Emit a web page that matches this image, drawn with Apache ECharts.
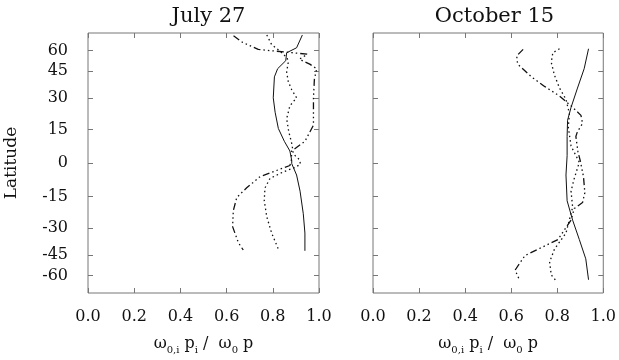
<!DOCTYPE html>
<html>
<head>
<meta charset="utf-8">
<script src="https://cdn.jsdelivr.net/npm/echarts@6/dist/echarts.min.js"></script>
<style>
  html, body { margin: 0; padding: 0; background: #fff; }
  #chart { width: 619px; height: 360px; }
</style>
</head>
<body>
<div id="chart"></div>
<script>
// panel titles
const panelTitles = ["July 27", "October 15"];
const latTicks = [-60, -45, -30, -15, 0, 15, 30, 45, 60];

// July 27 (latitude in degrees, ratio on x)
const julySolidLat = [80, 62.4, 58, 51.9, 46.5, 41.5, 30.1, 23, 15.4, 9.6, 5.3, 1.1, -0.3, -5.3, -12.5, -23, -32.6, -42.5];
const julySolidX = [0.928, 0.903, 0.86, 0.856, 0.821, 0.807, 0.802, 0.81, 0.824, 0.85, 0.874, 0.882, 0.882, 0.903, 0.918, 0.932, 0.939, 0.939];

const julyDotLat = [80, 65.6, 59.4, 54, 50.8, 44.4, 38.8, 34.3, 30.1, 26.1, 19.9, 14, 8.2, 4, 1.5, -0.5, -2, -3.9, -6.8, -11.1, -16.9, -24.5, -32.6, -41.5];
const julyDotX = [0.774, 0.795, 0.831, 0.862, 0.867, 0.86, 0.867, 0.882, 0.903, 0.874, 0.86, 0.869, 0.883, 0.889, 0.915, 0.92, 0.895, 0.846, 0.788, 0.766, 0.763, 0.774, 0.795, 0.824];

const julyDashLat = [78, 68, 60.9, 59.4, 58.1, 56.8, 53, 49.5, 46.5, 40, 30, 16.9, 9.6, 5.3, 1, -1.1, -6, -11, -15.4, -21.5, -29.3, -37.8, -42];
const julyDashX = [0.63, 0.67, 0.737, 0.81, 0.882, 0.95, 0.915, 0.96, 0.99, 0.98, 0.976, 0.976, 0.939, 0.882, 0.88, 0.874, 0.745, 0.687, 0.644, 0.629, 0.626, 0.651, 0.672];

// October 15
const octSolidLat = [61.5, 46.5, 35.2, 25.3, 19.2, 11.8, 3.2, -5.3, -16.9, -26.1, -36.1, -47.5, -63.9];
const octSolidX = [0.936, 0.917, 0.888, 0.86, 0.845, 0.843, 0.843, 0.838, 0.843, 0.867, 0.896, 0.924, 0.936];

const octDotLat = [61.5, 58, 50.8, 42.5, 35.2, 29.3, 22.2, 16.2, 7.5, 0.3, -6.8, -12.5, -19.9, -32.6, -41.5, -49.6, -59.4, -65];
const octDotX = [0.81, 0.781, 0.774, 0.788, 0.81, 0.838, 0.853, 0.848, 0.86, 0.896, 0.874, 0.86, 0.867, 0.838, 0.788, 0.767, 0.774, 0.795];

const octDashLat = [60.9, 55.5, 49.6, 41.5, 36.1, 31, 26.1, 21.5, 17.7, 14, 11.8, 5, 1, -6, -13.2, -17.7, -20.5, -26.1, -36.1, -41.5, -45.4, -55.5, -65];
const octDashX = [0.652, 0.624, 0.628, 0.688, 0.745, 0.81, 0.86, 0.903, 0.91, 0.888, 0.881, 0.89, 0.9, 0.914, 0.92, 0.91, 0.874, 0.86, 0.803, 0.717, 0.66, 0.617, 0.638];

const FONT = "DejaVu Serif";
const frameColor = "#777";

// y axis is linear in sin(latitude)
const toSin = (d) => Math.sin((d * Math.PI) / 180);
const pts = (lat, x) => lat.map((l, i) => [x[i], toSin(l)]);

const styles = {
  solid: { type: "solid", width: 1 },
  dot: { type: [1.5, 3], width: 1.3 },
  dash: { type: [7, 3, 1.5, 3, 1.5, 3, 1.5, 3], width: 1.3 },
};

const grids = [
  { left: 88, top: 33, width: 231, height: 269 },
  { left: 373, top: 33, width: 233, height: 269 },
];

const axisName =
  "{n|ω}{s|0,i}{n| p}{s|i}{n| /  ω}{s|0}{n| p}";

const xAxes = [];
const yAxes = [];
grids.forEach((g, i) => {
  xAxes.push({
    gridIndex: i,
    type: "value",
    min: 0,
    max: 1,
    interval: 0.2,
    position: "bottom",
    axisLine: { show: false, onZero: false },
    axisTick: { inside: true, length: 5, lineStyle: { color: frameColor } },
    splitLine: { show: false },
    axisLabel: {
      margin: 16,
      color: "#111",
      fontFamily: FONT,
      fontSize: 16,
      formatter: (v) => v.toFixed(1),
    },
    name: axisName,
    nameLocation: "middle",
    nameGap: 40,
    nameTextStyle: {
      rich: {
        n: { fontFamily: FONT, fontSize: 16, color: "#111", lineHeight: 22, verticalAlign: "middle" },
        s: { fontFamily: FONT, fontSize: 10, color: "#111", verticalAlign: "bottom", lineHeight: 22, padding: [9, 0, 0, 0] },
      },
    },
  });
  xAxes.push({
    gridIndex: i,
    type: "value",
    min: 0,
    max: 1,
    interval: 0.2,
    position: "top",
    axisLine: { show: false, onZero: false },
    axisTick: { inside: true, length: 5, lineStyle: { color: frameColor } },
    splitLine: { show: false },
    axisLabel: { show: false },
  });
  const tickVals = latTicks.map(toSin);
  yAxes.push({
    gridIndex: i,
    type: "value",
    min: -1,
    max: 1,
    position: "left",
    axisLine: { show: false, onZero: false },
    splitLine: { show: false },
    axisTick: { inside: true, length: 5, customValues: tickVals, lineStyle: { color: frameColor } },
    axisLabel: {
      show: i === 0,
      customValues: tickVals,
      margin: 20,
      color: "#111",
      fontFamily: FONT,
      fontSize: 16,
      formatter: (v) => String(Math.round((Math.asin(v) * 180) / Math.PI)),
    },
    name: i === 0 ? "Latitude" : "",
    nameLocation: "middle",
    nameGap: 68,
    nameTextStyle: { fontFamily: FONT, fontSize: 17, color: "#111" },
  });
  yAxes.push({
    gridIndex: i,
    type: "value",
    min: -1,
    max: 1,
    position: "right",
    axisLine: { show: false, onZero: false },
    splitLine: { show: false },
    axisTick: { inside: true, length: 5, customValues: tickVals, lineStyle: { color: frameColor } },
    axisLabel: { show: false },
  });
});

const mk = (panel, data, style) => ({
  type: "line",
  xAxisIndex: panel * 2,
  yAxisIndex: panel * 2,
  data: data,
  symbol: "none",
  silent: true,
  lineStyle: Object.assign({ color: "#111" }, style),
});

const chart = echarts.init(document.getElementById("chart"), null, { renderer: "canvas" });
chart.setOption({
  animation: false,
  backgroundColor: "#fff",
  title: panelTitles.map((t, i) => ({
    text: t,
    left: grids[i].left + grids[i].width / 2,
    textAlign: "center",
    top: 1,
    textStyle: { fontFamily: FONT, fontSize: 21, fontWeight: "normal", color: "#111" },
  })),
  grid: grids.map((g) => Object.assign({ show: true, borderColor: frameColor, borderWidth: 1 }, g)),
  xAxis: xAxes,
  yAxis: yAxes,
  series: [
    mk(0, pts(julySolidLat, julySolidX), styles.solid),
    mk(0, pts(julyDotLat, julyDotX), styles.dot),
    mk(0, pts(julyDashLat, julyDashX), styles.dash),
    mk(1, pts(octSolidLat, octSolidX), styles.solid),
    mk(1, pts(octDotLat, octDotX), styles.dot),
    mk(1, pts(octDashLat, octDashX), styles.dash),
  ],
});
</script>
</body>
</html>
